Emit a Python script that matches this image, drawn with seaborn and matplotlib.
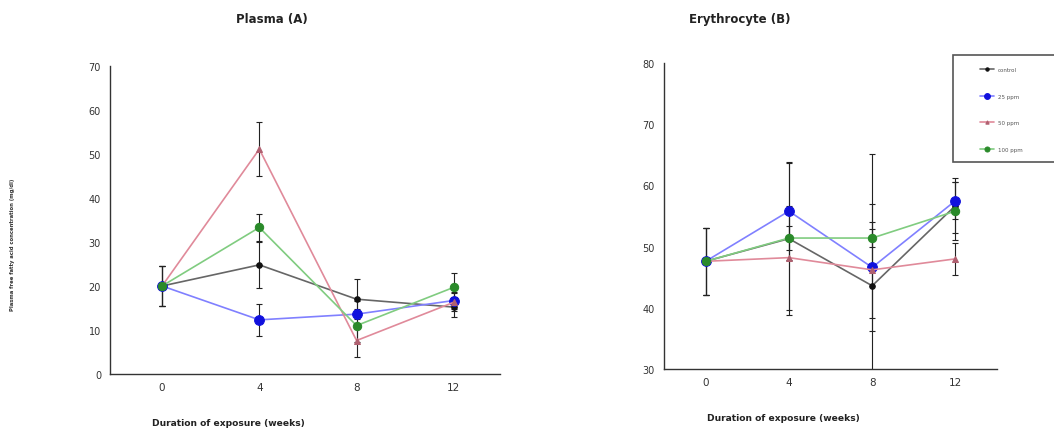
import matplotlib
matplotlib.use("Agg")
import matplotlib.pyplot as plt
import matplotlib.patches as mpatches
import seaborn as sns
import pandas as pd
import numpy as np

sns.set_theme(style="white")
plt.rcParams['font.family'] = ['DejaVu Sans']

weeks = [0, 4, 8, 12]
groups = ["control", "25 ppm", "50 ppm", "100 ppm"]

# Plasma (A)
plasma_control = [20.0, 24.8, 17.0, 15.2]
plasma_g1 = [20.0, 12.3, 13.6, 16.7]
plasma_g2 = [20.0, 51.1, 7.6, 16.3]
plasma_g3 = [20.0, 33.3, 11.0, 19.7]
plasma_err_control = [4.5, 5.2, 4.5, 2.3]
plasma_err_g1 = [4.5, 3.7, 3.0, 2.0]
plasma_err_g2 = [4.5, 6.2, 3.8, 2.0]
plasma_err_g3 = [4.5, 3.1, 3.8, 3.3]

# Erythrocyte (B)
ery_control = [47.6, 51.3, 43.6, 56.7]
ery_g1 = [47.6, 55.8, 46.6, 57.5]
ery_g2 = [47.6, 48.2, 46.2, 48.0]
ery_g3 = [47.6, 51.4, 51.4, 55.8]
ery_err_control = [5.5, 12.4, 21.5, 4.5]
ery_err_g1 = [5.5, 8.0, 10.4, 3.0]
ery_err_g2 = [5.5, 8.5, 7.9, 2.6]
ery_err_g3 = [5.5, 2.0, 1.5, 4.8]

line_colors = ["#666666", "#8080ff", "#e08a9a", "#80cc80"]
marker_colors = ["#111111", "#1010dd", "#b06070", "#2a8a2a"]
markers = ["o", "o", "^", "o"]
msizes = [4, 7, 4, 6]

W, H = 1054, 431
fig = plt.figure(figsize=(10.54, 4.31), dpi=100)
axA = fig.add_axes([0.1044, 0.130, 0.370, 0.7145])
axB = fig.add_axes([0.630, 0.1415, 0.316, 0.710])


def draw(ax, series, errs, ylim, yticks, xlim):
    rows = []
    for g, vals in zip(groups, series):
        for w, v in zip(weeks, vals):
            rows.append({"week": w, "value": v, "group": g})
    df = pd.DataFrame(rows)
    for i, (g, vals, e) in enumerate(zip(groups, series, errs)):
        ax.errorbar(weeks, vals, yerr=e, fmt="none", ecolor="#222222",
                    elinewidth=0.8, capsize=2, capthick=0.8, zorder=2)
        sub = df[df.group == g]
        sns.lineplot(data=sub, x="week", y="value", ax=ax, color=line_colors[i],
                     linewidth=1.2, marker=markers[i], markersize=msizes[i],
                     markerfacecolor=marker_colors[i], markeredgecolor=marker_colors[i],
                     label=g, legend=False, zorder=3)
    ax.set_xlim(*xlim)
    ax.set_ylim(*ylim)
    ax.set_yticks(yticks)
    ax.set_xticks(weeks)
    ax.set_xticks([2, 6, 10], minor=True)
    ax.set_xlabel("")
    ax.set_ylabel("")
    for s in ["top", "right"]:
        ax.spines[s].set_visible(False)
    for s in ["left", "bottom"]:
        ax.spines[s].set_color("#333333")
        ax.spines[s].set_linewidth(1.0)
    ax.tick_params(axis="both", which="both", direction="out", length=3,
                   width=0.8, color="#333333", labelsize=7, labelcolor="#333333")
    ax.tick_params(axis="x", which="major", labelsize=7.5, pad=6, length=0)


draw(axA, [plasma_control, plasma_g1, plasma_g2, plasma_g3],
     [plasma_err_control, plasma_err_g1, plasma_err_g2, plasma_err_g3],
     (0, 70), list(range(0, 71, 10)), (-2.14, 13.9))
draw(axB, [ery_control, ery_g1, ery_g2, ery_g3],
     [ery_err_control, ery_err_g1, ery_err_g2, ery_err_g3],
     (30, 80), list(range(30, 81, 10)), (-2.0, 14.0))

fig.text(272 / W, 1 - 20 / H, "Plasma (A)", ha="center", va="center",
         fontsize=8.5, fontweight="bold", color="#222222")
fig.text(740 / W, 1 - 20 / H, "Erythrocyte (B)", ha="center", va="center",
         fontsize=8.5, fontweight="bold", color="#222222")
fig.text(228 / W, 1 - 424 / H, "Duration of exposure (weeks)", ha="center",
         va="center", fontsize=6.6, fontweight="bold", color="#222222")
fig.text(783 / W, 1 - 419 / H, "Duration of exposure (weeks)", ha="center",
         va="center", fontsize=6.6, fontweight="bold", color="#222222")
fig.text(13 / W, 1 - 245 / H, "Plasma free fatty acid concentration (mg/dl)",
         rotation=90, ha="center", va="center", fontsize=3.8, fontweight="bold",
         color="#333333")

# legend frame (clipped at the right edge of the figure)
frame = mpatches.Rectangle((953 / W, 1 - 163 / H), 120 / W, 107 / H,
                           transform=fig.transFigure, fill=True,
                           facecolor="white", edgecolor="#555555",
                           linewidth=1.2, zorder=5)
fig.patches.append(frame)

handles, labels = axB.get_legend_handles_labels()
leg = fig.legend(handles, labels, loc="upper left",
                 bbox_to_anchor=(980 / W, 1 - 68 / H),
                 fontsize=4, markerscale=0.6, frameon=False,
                 labelspacing=3.9, handlelength=2.6, borderpad=0,
                 borderaxespad=0, handletextpad=0.6)
leg.set_zorder(6)
for t in leg.get_texts():
    t.set_color("#555555")

fig.savefig("out.png", dpi=100)
